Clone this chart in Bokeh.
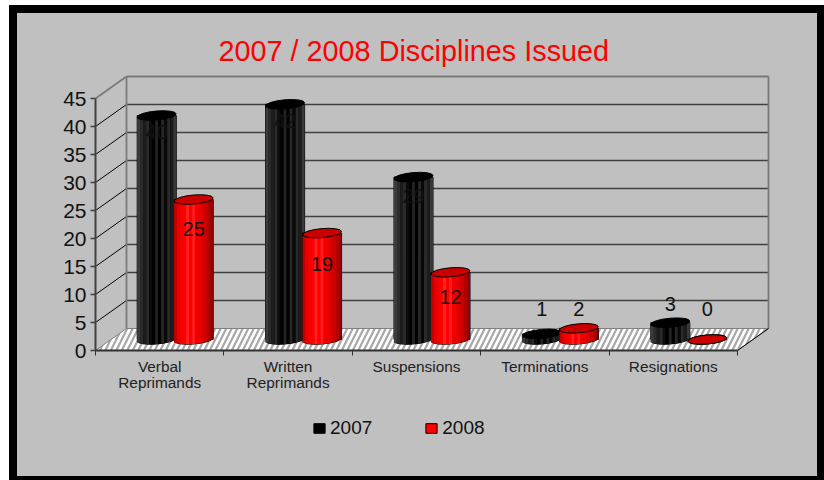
from bokeh.embed import file_html
from bokeh.layouts import column
from bokeh.models import ColumnDataSource, FixedTicker, Legend, LegendItem, LinearAxis, Range1d
from bokeh.plotting import figure
from bokeh.resources import INLINE
from bokeh.core.properties import value
import math

# ---- data ----
categories = ["Verbal\nReprimands", "Written\nReprimands", "Suspensions", "Terminations", "Resignations"]
values_2007 = [40, 42, 29, 1, 3]
values_2008 = [25, 19, 12, 2, 0]
y_ticks = [0, 5, 10, 15, 20, 25, 30, 35, 40, 45]
title_text = "2007 / 2008 Disciplines Issued"

# ---- geometry / style ----
FONT = "Liberation Sans"
GRAY = "#c0c0c0"
FRAME_W, FRAME_H = 800, 406
LEFT_PAD, BOTTOM_PAD = 78, 126     # frame pixels left of / below the chart origin
PX_X, PX_Y = 128.4, 5.6            # pixels per category / per value unit
DEPTH_X, DEPTH_Y = 31 / PX_X, 22 / PX_Y
BAR_W = 39 / PX_X
DODGE = 0.144
ELL_H = 9
TILT = 0.085
STRIPE_PX = 3
stripes_2007 = ["#3c3c3c", "#2c2c2c", "#1c1c1c", "#2a2a2a", "#0c0c0c", "#000000", "#222222",
                "#000000", "#262626", "#080808", "#2a2a2a", "#1c1c1c", "#383838"]
stripes_2008 = ["#c40000", "#e60000", "#f40000", "#ff0000", "#ff2222", "#ff0000", "#ff1c1c",
                "#f20000", "#ea0000", "#d80000", "#c80000", "#b00000", "#8e0000"]
# pixel shift of each data label from the cylinder top
label_dy_2007 = [-16, -17, -19, 25, 19]
label_dy_2008 = [-29, -31, -25, 19, 31]

p = figure(width=800, height=463, frame_width=FRAME_W, frame_height=FRAME_H,
           min_border_left=0, min_border_right=0, min_border_top=57, min_border_bottom=0,
           x_range=Range1d(-LEFT_PAD / PX_X, (FRAME_W - LEFT_PAD) / PX_X),
           y_range=Range1d(-BOTTOM_PAD / PX_Y, (FRAME_H - BOTTOM_PAD) / PX_Y),
           x_axis_type=None, y_axis_type=None, output_backend="svg", toolbar_location=None,
           background_fill_color=GRAY, border_fill_color=GRAY, outline_line_color=None,
           margin=0)
p.grid.visible = False

p.title.text = title_text
p.title.text_font = FONT
p.title.text_font_size = "28.8px"
p.title.text_font_style = "normal"
p.title.text_color = "#ff0000"
p.title.align = "left"
p.title.offset = 201
p.title.standoff = 7

n = len(categories)

# floor
p.patch([0, n, n + DEPTH_X, DEPTH_X], [0, 0, DEPTH_Y, DEPTH_Y], fill_color="white", line_color="#808080",
        line_width=1, hatch_pattern="right_diagonal_line", hatch_color="#a8a8a8", hatch_scale=11, hatch_weight=2.2)

# walls: grid lines on the back wall and side wall
wall = [t for t in y_ticks if t > 0]
top = wall[-1]
mid = wall[:-1]
p.segment(x0=[DEPTH_X] * len(mid), y0=[t + DEPTH_Y for t in mid], x1=[n + DEPTH_X] * len(mid),
          y1=[t + DEPTH_Y for t in mid], line_color="#404040", line_width=1.5)
p.segment(x0=[0] * len(mid), y0=mid, x1=[DEPTH_X] * len(mid), y1=[t + DEPTH_Y for t in mid],
          line_color="#000000", line_width=1)
p.segment(x0=[DEPTH_X, 0, DEPTH_X, n + DEPTH_X], y0=[top + DEPTH_Y, top, DEPTH_Y, DEPTH_Y],
          x1=[n + DEPTH_X, DEPTH_X, DEPTH_X, n + DEPTH_X], y1=[top + DEPTH_Y, top + DEPTH_Y, top + DEPTH_Y, top + DEPTH_Y],
          line_color="#7a7a7a", line_width=1.8)
p.segment(x0=[n], y0=[0], x1=[n + DEPTH_X], y1=[DEPTH_Y], line_color="#000000", line_width=1)


def cylinders(vals, shift, stripes, body, top_fill, edge):
    xs = [k + 0.5 + shift + DEPTH_X / 2 for k in range(n)]
    base = DEPTH_Y / 2
    tops = [v + base for v in vals]
    bases = [base] * n
    p.ellipse(x=xs, y=bases, width=39, height=ELL_H, width_units="screen", height_units="screen",
              angle=TILT, fill_color=body, line_color=edge, line_width=1)
    quad = p.quad(left=[x - BAR_W / 2 for x in xs], right=[x + BAR_W / 2 for x in xs], bottom=bases, top=tops,
                  fill_color=body, line_color=edge, line_width=1)
    x0, y0, y1, col = [], [], [], []
    m = len(stripes)
    for x, v in zip(xs, vals):
        if v == 0:
            continue
        for i, c in enumerate(stripes):
            off = (i - (m - 1) / 2) * STRIPE_PX
            t = off / 19.5
            drop = (ELL_H / 2 * math.sqrt(max(0, 1 - t * t)) - off * math.tan(TILT)) / PX_Y
            x0.append(x + off / PX_X)
            y0.append(base - drop)
            y1.append(base + v - drop)
            col.append(c)
    p.segment(x0=x0, y0=y0, x1=x0, y1=y1, line_color=col, line_width=STRIPE_PX, line_cap="butt")
    p.ellipse(x=xs, y=tops, width=39, height=ELL_H, width_units="screen", height_units="screen",
              angle=TILT, fill_color=top_fill, line_color="#000000", line_width=1)
    return quad, xs, tops


q07, xs07, tops07 = cylinders(values_2007, -DODGE, stripes_2007, "#000000", "#000000", "#000000")
q08, xs08, tops08 = cylinders(values_2008, DODGE, stripes_2008, "#ff0000", "#c80000", "#000000")

# data labels
for xs, tops, vals, dys in ((xs07, tops07, values_2007, label_dy_2007), (xs08, tops08, values_2008, label_dy_2008)):
    src = ColumnDataSource(dict(x=xs, y=tops, t=[str(v) for v in vals], dy=[-d for d in dys]))
    p.text(x="x", y="y", text="t", y_offset="dy", source=src, text_align="center", text_baseline="middle",
           text_font=value(FONT), text_font_size="20px", text_color="#111111")

# axes (pinned at the chart origin inside the frame)
yax = LinearAxis(ticker=FixedTicker(ticks=y_ticks), bounds=(0, 45), fixed_location=0)
yax.axis_line_color = "#404040"
yax.axis_line_width = 2
yax.major_tick_line_color = "#404040"
yax.major_tick_line_width = 1.5
yax.major_tick_in = 0
yax.major_tick_out = 5
yax.minor_tick_line_color = None
yax.major_label_standoff = 4
yax.major_label_text_font = FONT
yax.major_label_text_font_size = "21px"
yax.major_label_text_color = "#111111"
p.add_layout(yax, "left")

centers = [k + 0.5 for k in range(n)]
xax = LinearAxis(ticker=FixedTicker(ticks=centers, minor_ticks=list(range(n + 1))), bounds=(0, n), fixed_location=0)
xax.major_label_overrides = {c: lab for c, lab in zip(centers, categories)}
xax.axis_line_color = "#303030"
xax.axis_line_width = 2
xax.major_tick_in = 0
xax.major_tick_out = 0
xax.major_tick_line_color = None
xax.minor_tick_in = 0
xax.minor_tick_out = 5
xax.minor_tick_line_color = "#303030"
xax.minor_tick_line_width = 1
xax.major_label_standoff = 2
xax.major_label_text_font = FONT
xax.major_label_text_font_size = "15.4px"
xax.major_label_text_line_height = 0.98
xax.major_label_text_color = "#222222"
p.add_layout(xax, "below")

# legend
legend = Legend(items=[LegendItem(label="2007", renderers=[q07]), LegendItem(label="2008", renderers=[q08])],
                orientation="horizontal", location=(295, 37), padding=0, margin=0, spacing=52,
                glyph_width=14, glyph_height=12, label_standoff=4, label_text_font=FONT,
                label_text_font_size="19px", label_text_color="#111111", background_fill_alpha=0,
                border_line_color=None, label_height=12)
p.add_layout(legend, "center")

inner = column(p, width=800, height=463, margin=(8, 7, 4, 8), styles={"background-color": GRAY})
page = column(inner, width=815, height=475, margin=(5, 0, 0, 9), styles={"background-color": "#000000"})
open("out.html", "w").write(file_html(page, INLINE))
